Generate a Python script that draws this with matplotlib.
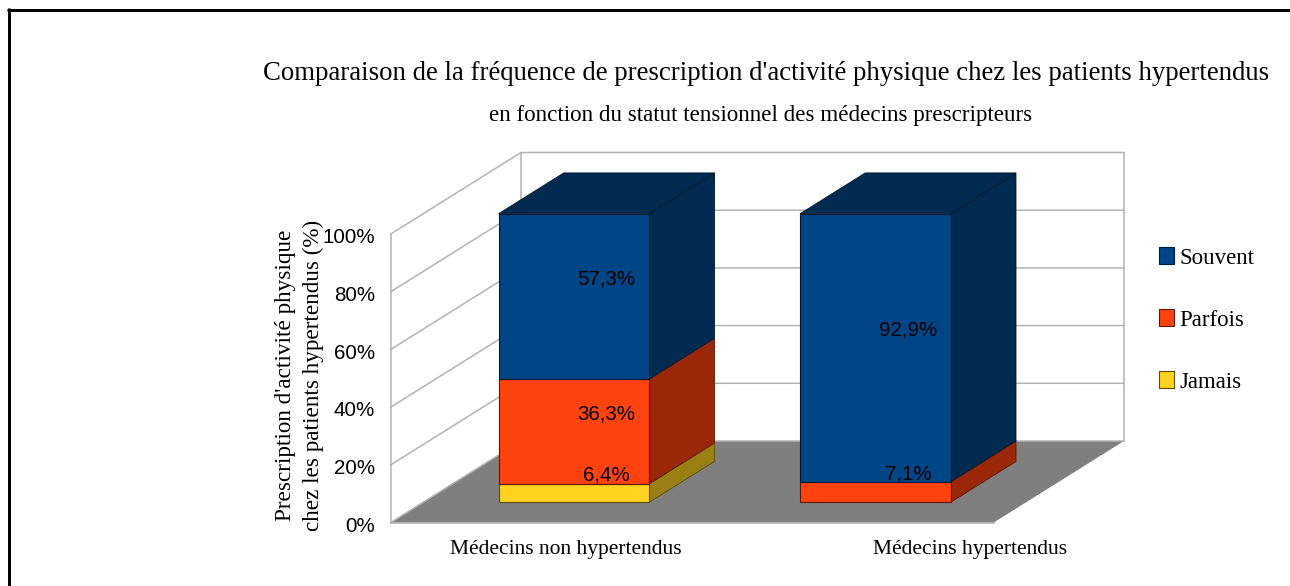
"""Comparaison de la fréquence de prescription d'activité physique: pseudo-3D stacked bars."""
import matplotlib

matplotlib.use("Agg")
import matplotlib.pyplot as plt
from matplotlib.patches import Rectangle
from matplotlib.transforms import ScaledTranslation

W, H = 1290, 586
SERIF = ["Liberation Serif", "DejaVu Serif"]
SANS = ["Liberation Sans", "DejaVu Sans"]

categories = ["Médecins non hypertendus", "Médecins hypertendus"]
series = ["Jamais", "Parfois", "Souvent"]
jamais = [6.4, 0.0]
parfois = [36.3, 7.1]
souvent = [57.3, 92.9]
y_ticks = [0, 20, 40, 60, 80, 100]
y_tick_labels = ["0%", "20%", "40%", "60%", "80%", "100%"]

FRONT = {"Jamais": "#ffd320", "Parfois": "#ff420e", "Souvent": "#004586"}
SIDE = {"Jamais": "#9a7f13", "Parfois": "#992708", "Souvent": "#002a50"}
EDGE = {"Jamais": "#5c4c0b", "Parfois": "#5c1705", "Souvent": "#001a30"}

# plot box of the projection, in pixels of the output image
X0_PX, Y0_PX = 390.5, 522.7
SLOT_PX = 301.5     # width of one category
PCT_PX = 2.885      # pixels per percent
DEPTH_X = 130.5 / SLOT_PX   # full floor depth, in category units
DEPTH_Y = 81.7 / PCT_PX     # full floor depth, in percent
BAR_W = 0.5
GRID = "#b3b3b3"


def main():
    fig = plt.figure(figsize=(W / 100, H / 100), dpi=100, facecolor="white")
    ax = fig.add_axes([0, 0, 1, 1])
    left = -0.5 - X0_PX / SLOT_PX
    bottom = -(H - Y0_PX) / PCT_PX
    ax.set_xlim(left, left + W / SLOT_PX)
    ax.set_ylim(bottom, bottom + H / PCT_PX)

    x_lo, x_hi = -0.5, len(categories) - 0.5

    # Floor and walls.
    ax.fill([x_lo, x_hi, x_hi + DEPTH_X, x_lo + DEPTH_X],
            [0, 0, DEPTH_Y, DEPTH_Y], color="#7f7f7f", lw=0, zorder=1)
    for v in y_ticks:
        ax.plot([x_lo, x_lo + DEPTH_X, x_hi + DEPTH_X],
                [v, v + DEPTH_Y, v + DEPTH_Y], color=GRID, lw=1.1, zorder=2)
    top = y_ticks[-1]
    ax.plot([x_lo, x_lo], [0, top], color=GRID, lw=1.1, zorder=2)
    for x in (x_lo + DEPTH_X, x_hi + DEPTH_X):
        ax.plot([x, x], [DEPTH_Y, top + DEPTH_Y], color=GRID, lw=1.1, zorder=2)
    ax.plot([x_lo, x_hi], [0, 0], color=GRID, lw=1.1, zorder=2)

    # Stacked bars: they stand in the middle half of the floor depth.
    dx, dy = DEPTH_X / 4, DEPTH_Y / 4
    values = {"Jamais": jamais, "Parfois": parfois, "Souvent": souvent}
    for i in range(len(categories)):
        x1 = i - BAR_W / 2 + dx
        x2 = x1 + BAR_W
        base = dy
        z = 10 + i
        for name in series:
            v = values[name][i]
            if v == 0:
                continue
            ax.fill([x2, x2 + 2 * dx, x2 + 2 * dx, x2],
                    [base, base + 2 * dy, base + v + 2 * dy, base + v],
                    facecolor=SIDE[name], edgecolor=EDGE[name], lw=0.6, zorder=z)
            ax.bar(i + dx, v, BAR_W, bottom=base, color=FRONT[name],
                   edgecolor=EDGE[name], lw=0.8, zorder=z + 0.5)
            ax.text(i + 2 * dx, base + v / 2 + dy - 0.9, f"{v:.1f}%".replace(".", ","),
                    ha="center", va="center", fontsize=14.8, family=SANS,
                    color="black", zorder=20)
            base += v
        ax.fill([x1, x2, x2 + 2 * dx, x1 + 2 * dx],
                [base, base, base + 2 * dy, base + 2 * dy],
                facecolor=SIDE["Souvent"], edgecolor=EDGE["Souvent"], lw=0.6, zorder=z)

    # Value axis on the front edge of the left wall.
    for s in ax.spines.values():
        s.set_visible(False)
    ax.spines["left"].set_position(("data", x_lo))
    ax.set_xticks([])
    ax.set_yticks(y_ticks, y_tick_labels, fontsize=14.8, family=SANS)
    ax.tick_params(axis="y", length=0, pad=11, colors="black")
    nudge = ScaledTranslation(0, -1.5 / 100, fig.dpi_scale_trans)
    for lab in ax.get_yticklabels():
        lab.set_transform(lab.get_transform() + nudge)

    # Category labels sit off-centre in the original.
    for name, px in zip(categories, (566, 970)):
        fig.text(px / W, 1 - 549.5 / H, name, ha="center", va="center",
                 fontsize=15.5, family=SERIF)

    fig.text(766 / W, 1 - 74 / H,
             "Comparaison de la fréquence de prescription d'activité physique "
             "chez les patients hypertendus",
             ha="center", va="center", fontsize=19.25, family=SERIF)
    fig.text(761 / W, 1 - 115 / H,
             "en fonction du statut tensionnel des médecins prescripteurs",
             ha="center", va="center", fontsize=16.6, family=SERIF)
    fig.text(299.5 / W, 1 - 375 / H,
             "Prescription d'activité physique\nchez les patients hypertendus (%)",
             rotation=90, ha="center", va="center", ma="center", fontsize=16.7,
             linespacing=1.4, family=SERIF)

    # Legend, top entry first.
    handles = [Rectangle((0, 0), 1, 1, facecolor=FRONT[n], edgecolor=EDGE[n], lw=0.8)
               for n in reversed(series)]
    fs_px = 16.5 * 100 / 72
    ax.legend(handles, list(reversed(series)), loc="upper left",
              bbox_to_anchor=(1159 / W, 1 - 247 / H), frameon=False,
              prop={"family": SERIF, "size": 16.5}, borderpad=0, borderaxespad=0,
              handlelength=14.7 / fs_px, handleheight=18 / fs_px,
              handletextpad=6 / fs_px, labelspacing=1.76)

    # Black frame, open at the bottom.
    fr = dict(color="black", lw=2.16, solid_capstyle="butt", transform=fig.transFigure)
    ax.plot([8.5 / W, 8.5 / W], [0, 1 - 8 / H], **fr)
    ax.plot([7 / W, 1], [1 - 9.5 / H, 1 - 9.5 / H], **fr)

    fig.savefig("out.png", dpi=100, facecolor="white")


if __name__ == "__main__":
    main()
